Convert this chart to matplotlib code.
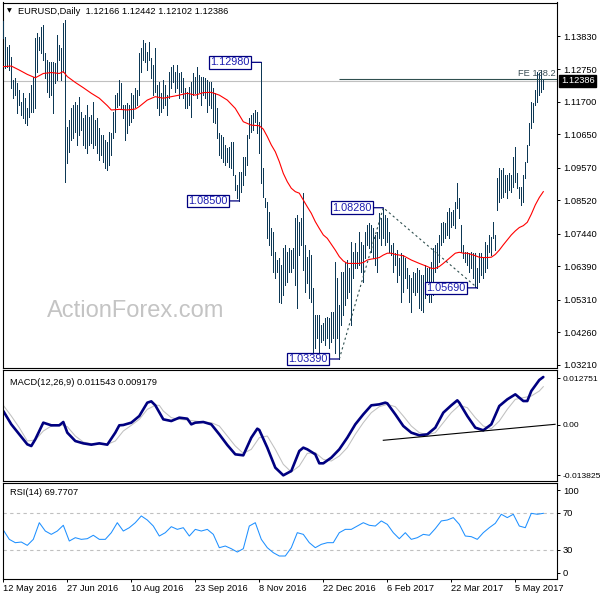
import matplotlib
matplotlib.use("Agg")
import matplotlib.pyplot as plt

plt.rcParams["font.family"] = ["Liberation Sans", "DejaVu Sans"]

# ---- data (bar index = trading day from 12 May 2016) ----
highs = [
    1.1432, 1.1381, 1.1349, 1.1354, 1.1316, 1.1241, 1.1246, 1.1230, 1.1209, 1.1171,
    1.1198, 1.1182, 1.1149, 1.1198, 1.1225, 1.1252, 1.1376, 1.1392, 1.1381, 1.1413,
    1.1419, 1.1327, 1.1306, 1.1300, 1.1300, 1.1300, 1.1295, 1.1386, 1.1354, 1.1343,
    1.1424, 1.1435, 1.1090, 1.1112, 1.1149, 1.1160, 1.1171, 1.1160, 1.1187, 1.1139,
    1.1117, 1.1128, 1.1160, 1.1122, 1.1128, 1.1171, 1.1112, 1.1117, 1.1085, 1.1063,
    1.1063, 1.1047, 1.1042, 1.1074, 1.1068, 1.1139, 1.1192, 1.1198, 1.1241, 1.1230,
    1.1160, 1.1160, 1.1165, 1.1160, 1.1198, 1.1192, 1.1214, 1.1209, 1.1327, 1.1343,
    1.1370, 1.1359, 1.1333, 1.1365, 1.1311, 1.1289, 1.1343, 1.1225, 1.1236, 1.1198,
    1.1241, 1.1225, 1.1192, 1.1268, 1.1284, 1.1289, 1.1268, 1.1289, 1.1262, 1.1268,
    1.1246, 1.1214, 1.1203, 1.1219, 1.1236, 1.1262, 1.1252, 1.1284, 1.1257, 1.1252,
    1.1252, 1.1246, 1.1241, 1.1236, 1.1236, 1.1214, 1.1198, 1.1149, 1.1068, 1.1063,
    1.1058, 1.1031, 1.1020, 1.1025, 1.1042, 1.1042, 1.0934, 1.0902, 1.0945, 1.0945,
    1.0993, 1.0993, 1.1063, 1.1117, 1.1128, 1.1133, 1.1144, 1.1139, 1.1106, 1.1298,
    1.0955, 1.0858, 1.0848, 1.0815, 1.0761, 1.0751, 1.0686, 1.0659, 1.0664, 1.0643,
    1.0697, 1.0708, 1.0686, 1.0697, 1.0691, 1.0697, 1.0794, 1.0805, 1.0783, 1.0794,
    1.0875, 1.0708, 1.0670, 1.0691, 1.0675, 1.0567, 1.0481, 1.0481, 1.0481, 1.0449,
    1.0454, 1.0470, 1.0476, 1.0470, 1.0492, 1.0492, 1.0654, 1.0600, 1.0514, 1.0621,
    1.0621, 1.0654, 1.0659, 1.0632, 1.0718, 1.0686, 1.0713, 1.0686, 1.0751, 1.0718,
    1.0708, 1.0751, 1.0772, 1.0778, 1.0772, 1.0761, 1.0740, 1.0751, 1.0810, 1.0794,
    1.0828, 1.0805, 1.0794, 1.0751, 1.0708, 1.0713, 1.0681, 1.0691, 1.0664, 1.0681,
    1.0675, 1.0664, 1.0632, 1.0611, 1.0600, 1.0621, 1.0616, 1.0632, 1.0627, 1.0611,
    1.0611, 1.0643, 1.0632, 1.0638, 1.0654, 1.0697, 1.0708, 1.0713, 1.0740, 1.0778,
    1.0783, 1.0778, 1.0815, 1.0826, 1.0815, 1.0821, 1.0848, 1.0907, 1.0858, 1.0772,
    1.0708, 1.0686, 1.0686, 1.0681, 1.0686, 1.0681, 1.0681, 1.0632, 1.0681, 1.0681,
    1.0664, 1.0718, 1.0708, 1.0740, 1.0735, 1.0783, 1.0740, 1.0923, 1.0955, 1.0950,
    1.0955, 1.0934, 1.0934, 1.0939, 1.0934, 1.0993, 1.1025, 1.0939, 1.0896, 1.0896,
    1.0934, 1.0977, 1.1031, 1.1101, 1.1171, 1.1165, 1.1209, 1.1268, 1.1262, 1.1273,
    1.12442,
]
lows = [
    1.1376, 1.1279, 1.1284, 1.1273, 1.1214, 1.1182, 1.1192, 1.1133, 1.1160, 1.1128,
    1.1117, 1.1101, 1.1095, 1.1122, 1.1139, 1.1139, 1.1149, 1.1268, 1.1338, 1.1327,
    1.1306, 1.1246, 1.1203, 1.1187, 1.1192, 1.1133, 1.1230, 1.1241, 1.1306, 1.1241,
    1.1268, 1.0912, 1.0972, 1.1009, 1.1047, 1.1052, 1.1074, 1.1031, 1.1063, 1.1079,
    1.1031, 1.1020, 1.1004, 1.1031, 1.1036, 1.1020, 1.1031, 1.1004, 1.0982, 1.0998,
    1.0977, 1.0955, 1.0950, 1.0966, 1.0998, 1.1052, 1.1074, 1.1155, 1.1160, 1.1149,
    1.1117, 1.1047, 1.1068, 1.1095, 1.1106, 1.1117, 1.1155, 1.1160, 1.1192, 1.1268,
    1.1306, 1.1300, 1.1273, 1.1306, 1.1246, 1.1192, 1.1203, 1.1149, 1.1128, 1.1139,
    1.1149, 1.1160, 1.1128, 1.1182, 1.1214, 1.1236, 1.1203, 1.1214, 1.1182, 1.1203,
    1.1182, 1.1149, 1.1149, 1.1160, 1.1122, 1.1192, 1.1198, 1.1182, 1.1203, 1.1160,
    1.1192, 1.1182, 1.1139, 1.1160, 1.1149, 1.1106, 1.1101, 1.1052, 1.0998, 1.0988,
    1.0977, 1.0966, 1.0977, 1.0961, 1.0955, 1.0934, 1.0885, 1.0858, 1.0850, 1.0880,
    1.0902, 1.0934, 1.0966, 1.1052, 1.1074, 1.1079, 1.1106, 1.1068, 1.1004, 1.0907,
    1.0864, 1.0831, 1.0729, 1.0708, 1.0675, 1.0621, 1.0600, 1.0621, 1.0524, 1.0519,
    1.0546, 1.0578, 1.0589, 1.0621, 1.0621, 1.0632, 1.0578, 1.0503, 1.0675, 1.0708,
    1.0627, 1.0557, 1.0584, 1.0535, 1.0524, 1.0363, 1.0374, 1.0406, 1.0363, 1.0395,
    1.0400, 1.0384, 1.0406, 1.0374, 1.0395, 1.0406, 1.0357, 1.0406, 1.0339, 1.0449,
    1.0481, 1.0514, 1.0535, 1.0557, 1.0449, 1.0600, 1.0632, 1.0632, 1.0643, 1.0621,
    1.0589, 1.0664, 1.0708, 1.0697, 1.0686, 1.0664, 1.0643, 1.0621, 1.0729, 1.0708,
    1.0729, 1.0708, 1.0718, 1.0686, 1.0675, 1.0621, 1.0643, 1.0589, 1.0610, 1.0524,
    1.0557, 1.0600, 1.0567, 1.0524, 1.0492, 1.0557, 1.0546, 1.0557, 1.0503, 1.0497,
    1.0492, 1.0535, 1.0546, 1.0524, 1.0524, 1.0546, 1.0621, 1.0632, 1.0654, 1.0708,
    1.0718, 1.0729, 1.0740, 1.0729, 1.0767, 1.0772, 1.0761, 1.0826, 1.0794, 1.0686,
    1.0664, 1.0654, 1.0643, 1.0621, 1.0632, 1.0600, 1.0573, 1.0569, 1.0589, 1.0611,
    1.0600, 1.0621, 1.0632, 1.0686, 1.0675, 1.0729, 1.0691, 1.0821, 1.0848, 1.0858,
    1.0864, 1.0880, 1.0858, 1.0885, 1.0880, 1.0896, 1.0912, 1.0891, 1.0858, 1.0837,
    1.0848, 1.0923, 1.0977, 1.1031, 1.1085, 1.1106, 1.1160, 1.1171, 1.1192, 1.1203,
    1.12102,
]
last_close = 1.12386

ma_idx = [0, 4, 8, 12, 16, 20, 24, 28, 30, 32, 36, 40, 44, 48, 52, 54, 58, 62, 66, 68,
          72, 76, 80, 84, 88, 92, 96, 100, 104, 108, 112, 116, 120, 124, 128, 130, 132,
          134, 136, 138, 140, 142, 144, 146, 148, 150, 152, 154, 156, 158, 160, 162, 164,
          166, 168, 170, 172, 176, 178, 180, 182, 184, 186, 188, 190, 192, 194, 196, 198,
          200, 204, 208, 212, 214, 216, 218, 220, 222, 224, 226, 228, 230, 232, 234, 236,
          238, 240, 242, 244, 246, 248, 250, 252, 254, 256, 258, 260, 262, 264, 266, 268,
          270]
ma_val = [1.1284, 1.1286, 1.1273, 1.1259, 1.1248, 1.1262, 1.1265, 1.1262, 1.1268, 1.1252,
          1.1233, 1.1216, 1.1198, 1.1182, 1.1158, 1.1144, 1.1146, 1.1144, 1.1147, 1.1155,
          1.1176, 1.1187, 1.1182, 1.1187, 1.1192, 1.1198, 1.1192, 1.1200, 1.1201, 1.1192,
          1.1176, 1.1149, 1.1106, 1.1095, 1.1093, 1.1082, 1.1058, 1.1031, 1.1009, 1.0977,
          1.0939, 1.0912, 1.0891, 1.0880, 1.0875, 1.0853, 1.0831, 1.0810, 1.0783, 1.0761,
          1.0740, 1.0729, 1.0710, 1.0691, 1.0670, 1.0656, 1.0648, 1.0648, 1.0648, 1.0651,
          1.0659, 1.0662, 1.0664, 1.0667, 1.0675, 1.0681, 1.0681, 1.0677, 1.0675, 1.0673,
          1.0659, 1.0648, 1.0638, 1.0632, 1.0632, 1.0638, 1.0648, 1.0659, 1.0670, 1.0681,
          1.0684, 1.0681, 1.0681, 1.0677, 1.0673, 1.0668, 1.0667, 1.0667, 1.0668, 1.0677,
          1.0691, 1.0708, 1.0724, 1.0740, 1.0753, 1.0764, 1.0770, 1.0781, 1.0807, 1.0837,
          1.0861, 1.0880]

macd_idx = [0, 4, 8, 12, 14, 16, 20, 24, 28, 30, 32, 36, 40, 44, 48, 52, 56, 58, 60, 64,
            68, 72, 74, 76, 80, 84, 88, 92, 94, 96, 100, 104, 108, 112, 116, 120, 124,
            127, 128, 132, 136, 140, 144, 148, 150, 152, 156, 158, 160, 164, 168, 172,
            176, 180, 184, 188, 191, 192, 196, 200, 204, 208, 212, 216, 220, 224, 227,
            228, 232, 236, 240, 244, 248, 252, 256, 258, 260, 262, 264, 268, 270]
macd_val = [0.00375, 0.00010, -0.00264, -0.00538, -0.00584, -0.00401, 0.00056, -0.00017,
            -0.00017, 0.00074, -0.00218, -0.00447, -0.00511, -0.00547, -0.00511, -0.00547,
            -0.00218, -0.00017, -0.00008, 0.00056, 0.00238, 0.00604, 0.00640, 0.00531,
            0.00147, 0.00101, 0.00193, 0.00165, 0.00010, 0.00056, 0.00074, 0.00010,
            -0.00264, -0.00556, -0.00812, -0.00839, -0.00355, -0.00109, -0.00145,
            -0.00629, -0.01177, -0.01387, -0.01269, -0.00721, -0.00629, -0.00675,
            -0.00812, -0.01058, -0.01058, -0.00903, -0.00675, -0.00355, 0.00010, 0.00284,
            0.00531, 0.00558, 0.00604, 0.00585, 0.00284, -0.00036, -0.00218, -0.00291,
            -0.00264, -0.00081, 0.00330, 0.00531, 0.00668, 0.00604, 0.00238, -0.00081,
            -0.00154, 0.00010, 0.00512, 0.00695, 0.00832, 0.00741, 0.00649, 0.00649,
            0.00923, 0.01225, 0.01307]

signal_idx = [0, 4, 8, 12, 16, 20, 24, 28, 32, 36, 40, 44, 48, 52, 56, 60, 64, 68, 72,
              76, 78, 80, 84, 88, 92, 96, 100, 104, 108, 112, 116, 120, 124, 128, 132,
              136, 140, 144, 148, 152, 156, 160, 164, 168, 172, 176, 180, 184, 188, 192,
              196, 200, 204, 208, 212, 216, 220, 224, 228, 232, 236, 240, 244, 248, 252,
              256, 260, 264, 268, 270]
signal_val = [0.00531, 0.00238, -0.00081, -0.00447, -0.00419, -0.00173, -0.00036, 0.00010,
              -0.00054, -0.00310, -0.00474, -0.00520, -0.00538, -0.00538, -0.00447,
              -0.00173, -0.00017, 0.00147, 0.00421, 0.00531, 0.00531, 0.00375, 0.00193,
              0.00147, 0.00129, 0.00101, 0.00074, 0.00056, -0.00036, -0.00310, -0.00584,
              -0.00785, -0.00675, -0.00355, -0.00310, -0.00675, -0.01086, -0.01296,
              -0.01132, -0.00785, -0.00766, -0.00949, -0.00995, -0.00858, -0.00629,
              -0.00264, 0.00056, 0.00330, 0.00494, 0.00558, 0.00494, 0.00238, -0.00036,
              -0.00218, -0.00273, -0.00218, 0.00056, 0.00330, 0.00531, 0.00467, 0.00193,
              -0.00036, -0.00109, 0.00101, 0.00421, 0.00695, 0.00741, 0.00786, 0.00923,
              0.01042]

rsi_idx = list(range(0, 271, 3))
rsi_val = [51.6, 41.5, 37.9, 38.6, 35.0, 41.5, 59.5, 50.5, 46.9, 50.5,
           56.7, 39.7, 43.3, 41.5, 42.2, 45.9, 41.5, 41.5, 48.7, 59.5,
           50.5, 54.1, 59.5, 66.8, 62.4, 55.9, 45.1, 48.7, 55.2, 52.3,
           54.1, 45.1, 52.3, 50.5, 52.3, 46.9, 32.5, 34.3, 31.4, 27.8,
           31.4, 55.9, 59.5, 41.5, 32.5, 27.1, 23.5, 23.5, 32.5, 48.7,
           46.9, 37.9, 32.5, 36.1, 37.9, 37.9, 48.7, 52.3, 52.3, 55.9,
           59.5, 56.7, 55.9, 61.4, 57.7, 48.7, 42.2, 48.7, 41.5, 43.3,
           46.9, 45.9, 53.1, 61.4, 62.4, 65.0, 57.7, 45.1, 44.4, 41.5,
           48.7, 54.1, 58.8, 68.6, 65.0, 68.6, 55.9, 54.1, 69.6, 68.6,
           69.6]

date_idx = [0, 32, 64, 96, 128, 160, 192, 224, 256]
date_labels = ["12 May 2016", "27 Jun 2016", "10 Aug 2016", "23 Sep 2016", "8 Nov 2016",
               "22 Dec 2016", "6 Feb 2017", "22 Mar 2017", "5 May 2017"]
price_ticks = [1.13830, 1.12750, 1.11700, 1.10650, 1.09570, 1.08520, 1.07440,
               1.06390, 1.05310, 1.04260, 1.03210]

swing_idx = [129, 118, 190, 168, 237]
swing_price = [1.12980, 1.08500, 1.08280, 1.03390, 1.05690]

# Fibonacci expansion A-B-C
fe_idx = [168, 190, 237]
fe_price = [1.03390, 1.08280, 1.05690]
fe_ratio = 1.382

macd_trend_idx = [190, 275.9]
macd_trend_val = [-0.00427, 0.00011]

# ---- layout (pixel positions of the MT4 panels) ----
W = H = 600.0
fig = plt.figure(figsize=(6, 6), dpi=100)


def panel(top, bottom, left=2.5, right=557.0):
    return fig.add_axes([left / W, 1 - bottom / H, (right - left) / W, (bottom - top) / H])


ax = panel(2.5, 367.7)
ax_macd = panel(370.3, 481.3)
ax_rsi = panel(483.0, 579.0)

xlim = (-0.4, 276.85)
small = 6.7
for a in (ax, ax_macd, ax_rsi):
    a.set_xlim(*xlim)
    a.yaxis.tick_right()
    a.tick_params(axis="y", direction="out", length=2.2, width=0.7, pad=2,
                  labelsize=small, colors="black")
    a.tick_params(axis="x", bottom=False, labelbottom=False)
    for s in a.spines.values():
        s.set_linewidth(0.8)
        s.set_color("black")

# ---- price panel ----
ax.set_ylim(1.03109, 1.14914)
ax.set_yticks(price_ticks, [f"{p:.5f}" for p in price_ticks])

ax.text(0.0803, 0.1388, "ActionForex.com", transform=ax.transAxes, fontsize=17,
        color="#c4c4c4", ha="left", va="baseline", zorder=1)

bar_idx = list(range(len(highs)))
ax.vlines(bar_idx, lows, highs, colors="#0d3855", linewidth=0.6,
          antialiased=False, zorder=3)
ax.plot(ma_idx, ma_val, color="red", lw=0.8, zorder=4)
ax.axhline(last_close, color="#c0c0c0", lw=0.8, zorder=2)

fe_level = fe_price[2] + fe_ratio * (fe_price[1] - fe_price[0])
ax.hlines(fe_level, fe_idx[0], xlim[1], color="#2f4f4f", lw=0.8, zorder=4)
ax.annotate("FE 138.2", xy=(xlim[1] - 0.6, fe_level), xytext=(0, 2.5),
            textcoords="offset pixels", ha="right", va="baseline",
            fontsize=small, color="#3b4f55", zorder=5)
ax.plot(fe_idx, fe_price, color="#2f4f4f", lw=0.8, ls=(0, (2, 2.5)), zorder=4)

for i, p in zip(swing_idx, swing_price):
    ax.annotate(f"{p:.5f}", xy=(i, p), xytext=(-12, 0), textcoords="offset pixels",
                ha="right", va="center", fontsize=7.8, color="#1c1cb0", zorder=6,
                bbox=dict(boxstyle="square,pad=0.12", fc="white", ec="#000080", lw=0.9),
                arrowprops=dict(arrowstyle="-", color="#000080", lw=0.9,
                                shrinkA=0, shrinkB=0))

ax.annotate(f"{last_close:.5f}", xy=(1, last_close), xycoords=("axes fraction", "data"),
            xytext=(4, 0), textcoords="offset pixels", ha="left", va="center",
            fontsize=small, color="white", annotation_clip=False,
            bbox=dict(boxstyle="square,pad=0.18", fc="black", ec="black"))

fig.text(9.5 / W, 1 - 11 / H, "\u25bc", family="DejaVu Sans", fontsize=4.5,
         ha="center", va="center")
fig.text(18 / W, 1 - 11 / H, "EURUSD,Daily  1.12166 1.12442 1.12102 1.12386",
         fontsize=small, ha="left", va="center")

# ---- MACD panel ----
ax_macd.set_ylim(-0.01551, 0.01491)
ax_macd.set_yticks([0.012751, 0.0, -0.013825], ["0.012751", "0.00", "-0.013825"])
ax_macd.tick_params(axis="y", labelsize=6.1, pad=1.6)
ax_macd.plot(signal_idx, signal_val, color="#c0c0c0", lw=0.75)
ax_macd.plot(macd_idx, macd_val, color="#000080", lw=1.9, solid_capstyle="round")
ax_macd.plot(macd_trend_idx, macd_trend_val, color="black", lw=0.8)
ax_macd.text(7 / 554.5, 0.89, "MACD(12,26,9) 0.011543 0.009179", transform=ax_macd.transAxes,
             fontsize=small, ha="left", va="center")

# ---- RSI panel ----
ax_rsi.set_ylim(-1.35, 102.4)
ax_rsi.set_yticks([94.5, 70, 30, 5.5], ["100", "70", "30", "0"])
for lvl in (70, 30):
    ax_rsi.axhline(lvl, color="#c0c0c0", lw=0.8, ls=(0, (3, 3)))
ax_rsi.plot(rsi_idx, rsi_val, color="#1e90ff", lw=0.75)
ax_rsi.text(7 / 554.5, 0.9, "RSI(14) 69.7707", transform=ax_rsi.transAxes,
            fontsize=small, ha="left", va="center")

ax_rsi.tick_params(axis="x", bottom=True, labelbottom=True, direction="out",
                   length=2.2, width=0.7, pad=1.5, labelsize=small)
ax_rsi.set_xticks(date_idx, date_labels, ha="left")

fig.savefig("out.png", dpi=100)
